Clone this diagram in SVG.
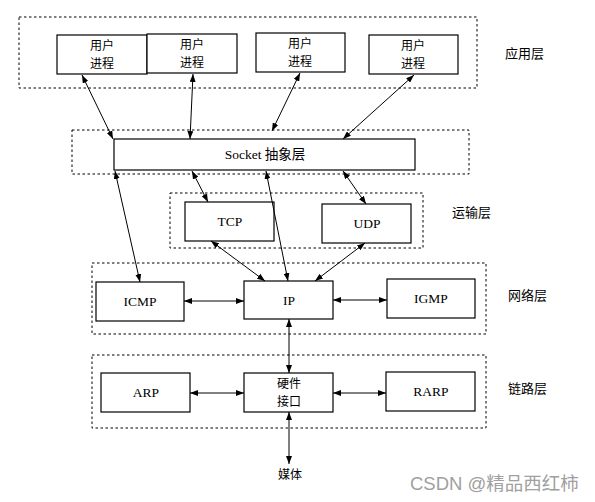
<svg xmlns="http://www.w3.org/2000/svg" width="595" height="502" viewBox="0 0 595 502">
<style>
.layer{fill:none;stroke:#000;stroke-width:1;stroke-dasharray:2.5,2.5}
.box{fill:#fff;stroke:#000;stroke-width:1.2}
.t{font-family:"Liberation Serif","Noto Sans CJK SC",serif;font-size:13.5px;fill:#000;text-anchor:middle}
.c{font-family:"Noto Sans CJK SC","Liberation Sans",sans-serif;font-size:12px;fill:#000;text-anchor:middle}
.lbl{font-family:"Noto Sans CJK SC","Liberation Sans",sans-serif;font-size:13px;fill:#000}
.con line{stroke:#000;stroke-width:1;marker-start:url(#ah);marker-end:url(#ah)}
</style>
<defs>
<marker id="ah" viewBox="0 0 8 6" refX="8" refY="3" markerWidth="8" markerHeight="6" markerUnits="userSpaceOnUse" orient="auto-start-reverse">
<path d="M0,0 L8,3 L0,6 z" fill="#000"/>
</marker>
</defs>
<rect width="595" height="502" fill="#fff"/>
<g id="layers">
<rect class="layer" x="19" y="17" width="458" height="71"/>
<rect class="layer" x="72" y="130" width="397" height="44"/>
<rect class="layer" x="170" y="193" width="253" height="55"/>
<rect class="layer" x="92" y="263" width="394" height="71"/>
<rect class="layer" x="92" y="355" width="394" height="73"/>
</g>
<g id="layer-labels">
<text class="lbl" x="505" y="58">应用层</text>
<text class="lbl" x="452" y="217">运输层</text>
<text class="lbl" x="508" y="300">网络层</text>
<text class="lbl" x="508" y="393">链路层</text>
</g>
<g id="user1"><rect class="box" x="57" y="35" width="90" height="39"/><text class="c" x="102" y="50">用户</text><text class="c" x="102" y="68">进程</text></g>
<g id="user2"><rect class="box" x="147" y="34" width="90" height="39"/><text class="c" x="192" y="49">用户</text><text class="c" x="192" y="67">进程</text></g>
<g id="user3"><rect class="box" x="256" y="33" width="89" height="39"/><text class="c" x="300" y="48">用户</text><text class="c" x="300" y="66">进程</text></g>
<g id="user4"><rect class="box" x="369" y="35" width="89" height="39"/><text class="c" x="413" y="50">用户</text><text class="c" x="413" y="68">进程</text></g>
<g id="socket"><rect class="box" x="114" y="139" width="301" height="31"/><text class="t" x="265" y="159">Socket 抽象层</text></g>
<g id="tcp"><rect class="box" x="185" y="202" width="89" height="39"/><text class="t" x="230" y="226">TCP</text></g>
<g id="udp"><rect class="box" x="322" y="204" width="89" height="39"/><text class="t" x="367" y="228">UDP</text></g>
<g id="icmp"><rect class="box" x="96" y="282" width="88" height="39"/><text class="t" x="140" y="306">ICMP</text></g>
<g id="ip"><rect class="box" x="244" y="281" width="89" height="38"/><text class="t" x="289" y="305">IP</text></g>
<g id="igmp"><rect class="box" x="387" y="279" width="88" height="39"/><text class="t" x="431" y="303">IGMP</text></g>
<g id="arp"><rect class="box" x="101" y="373" width="89" height="39"/><text class="t" x="146" y="397">ARP</text></g>
<g id="hw"><rect class="box" x="244" y="373" width="89" height="39"/><text class="c" x="289" y="388">硬件</text><text class="c" x="289" y="406">接口</text></g>
<g id="rarp"><rect class="box" x="386" y="372" width="89" height="39"/><text class="t" x="431" y="396">RARP</text></g>
<g id="media"><text class="c" x="290" y="479">媒体</text></g>
<g id="connectors" class="con">
<line x1="82" y1="75" x2="113" y2="139"/>
<line x1="193" y1="74" x2="190" y2="139"/>
<line x1="300" y1="73" x2="272" y2="131"/>
<line x1="414" y1="75" x2="343" y2="139"/>
<line x1="192" y1="171" x2="208" y2="202"/>
<line x1="343" y1="171" x2="366" y2="204"/>
<line x1="115" y1="171" x2="140" y2="282"/>
<line x1="266" y1="171" x2="288" y2="281"/>
<line x1="211" y1="241" x2="265" y2="281"/>
<line x1="365" y1="243" x2="315" y2="281"/>
<line x1="184" y1="301" x2="244" y2="301"/>
<line x1="333" y1="300" x2="387" y2="300"/>
<line x1="289" y1="319" x2="289" y2="373"/>
<line x1="190" y1="393" x2="244" y2="393"/>
<line x1="333" y1="393" x2="386" y2="393"/>
<line x1="289" y1="412" x2="289" y2="464"/>
</g>
<text x="410" y="490" style="font-family:'Liberation Sans','Noto Sans CJK SC',sans-serif;font-size:18.5px;fill:#a0a0a0">CSDN @精品西红柿</text>
</svg>
